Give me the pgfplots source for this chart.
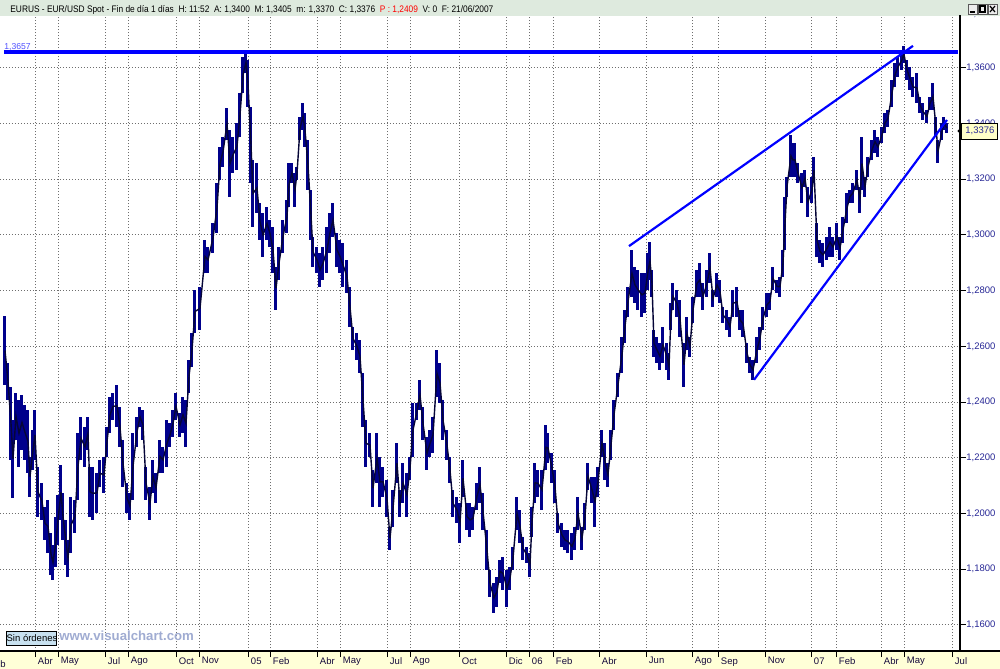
\documentclass[border=0pt]{standalone}
\usepackage{pgfplots}
\pgfplotsset{compat=1.18}
\usepackage{pgfplotstable}
\usepackage{fontspec}
\setmainfont{Liberation Sans}

\definecolor{barnavy}{RGB}{0,0,140}
\definecolor{linedark}{RGB}{5,5,55}
\definecolor{trendblue}{RGB}{0,0,255}
\definecolor{gridgray}{RGB}{110,110,110}
\definecolor{ticknavy}{RGB}{40,40,150}
\definecolor{monthtxt}{RGB}{20,10,60}
\definecolor{bandyellow}{RGB}{255,255,215}
\definecolor{titlebg}{RGB}{222,234,222}
\definecolor{levelblue}{RGB}{80,80,255}
\definecolor{tagyellow}{RGB}{255,255,200}
\definecolor{btnblue}{RGB}{200,225,240}
\definecolor{wmark}{RGB}{160,172,210}

% EUR/USD daily bars: position, high, low
\pgfplotstableread{
x hi lo
5 1.2709 1.2462
8 1.2541 1.2408
11 1.2455 1.2193
13 1.2336 1.2056
16 1.2433 1.2264
19 1.2408 1.2168
22 1.2426 1.2228
25 1.2390 1.2193
28 1.2372 1.2146
30 1.2203 1.2060
33 1.2300 1.2157
35 1.2372 1.2193
38 1.2168 1.1988
42 1.2110 1.1977
45 1.2024 1.1905
48 1.2049 1.1858
51 1.1930 1.1780
53 1.1887 1.1762
56 1.1988 1.1809
58 1.2067 1.1887
61 1.2175 1.1977
63 1.2074 1.1905
66 1.1977 1.1816
68 1.1905 1.1773
71 1.2060 1.1858
75 1.2049 1.1930
78 1.2289 1.2049
81 1.2347 1.2193
85 1.2311 1.2168
88 1.2347 1.2228
90 1.2168 1.1988
93 1.2168 1.1977
97 1.2146 1.2002
100 1.2193 1.2096
104 1.2203 1.2074
107 1.2311 1.2203
110 1.2419 1.2289
113 1.2433 1.2336
117 1.2462 1.2311
120 1.2383 1.2239
123 1.2264 1.2096
127 1.2110 1.2002
130 1.2074 1.1977
133 1.2289 1.2049
137 1.2347 1.2239
140 1.2383 1.2311
143 1.2372 1.2264
146 1.2168 1.2049
150 1.2096 1.1977
153 1.2193 1.2074
156 1.2146 1.2038
160 1.2264 1.2146
163 1.2239 1.2146
167 1.2336 1.2168
170 1.2325 1.2239
173 1.2372 1.2275
176 1.2433 1.2336
180 1.2361 1.2275
183 1.2419 1.2289
186 1.2408 1.2239
189 1.2552 1.2433
192 1.2648 1.2527
195 1.2803 1.2648
200 1.2814 1.2659
205 1.2982 1.2864
208 1.2957 1.2864
213 1.3043 1.2935
217 1.3187 1.3007
220 1.3316 1.3198
223 1.3352 1.3245
227 1.3456 1.3341
230 1.3377 1.3137
233 1.3352 1.3223
237 1.3402 1.3234
240 1.3510 1.3352
243 1.3639 1.3510
246 1.3657 1.3582
248 1.3629 1.3460
251 1.3460 1.3187
253 1.3270 1.3029
257 1.3259 1.3079
260 1.3115 1.2982
263 1.3079 1.2921
267 1.3101 1.2982
270 1.3054 1.2957
273 1.3029 1.2864
276 1.2886 1.2731
279 1.2957 1.2839
283 1.3054 1.2935
287 1.3126 1.3007
289 1.3259 1.3101
292 1.3259 1.3187
295 1.3223 1.3101
297 1.3245 1.3198
300 1.3424 1.3341
303 1.3474 1.3377
305 1.3438 1.3316
308 1.3341 1.3162
311 1.3162 1.2982
313 1.2993 1.2886
317 1.2957 1.2864
320 1.2935 1.2814
323 1.2957 1.2839
327 1.3029 1.2864
330 1.3079 1.2935
333 1.3115 1.2993
337 1.3007 1.2886
340 1.2982 1.2864
343 1.2971 1.2814
347 1.2911 1.2792
350 1.2814 1.2670
353 1.2670 1.2587
357 1.2648 1.2552
360 1.2623 1.2505
363 1.2505 1.2311
366 1.2336 1.2168
370 1.2289 1.2203
373 1.2157 1.2024
377 1.2289 1.2110
380 1.2203 1.2024
383 1.2168 1.2060
387 1.2121 1.1988
390 1.1952 1.1869
393 1.2085 1.1952
397 1.2253 1.2110
400 1.2085 1.1988
403 1.2182 1.2038
407 1.2146 1.1988
410 1.2203 1.2121
413 1.2397 1.2203
417 1.2397 1.2336
420 1.2480 1.2372
423 1.2383 1.2264
427 1.2275 1.2157
430 1.2300 1.2203
433 1.2347 1.2217
437 1.2587 1.2419
440 1.2541 1.2397
443 1.2408 1.2264
447 1.2300 1.2193
450 1.2203 1.2110
453 1.2085 1.1988
457 1.2060 1.1966
460 1.2038 1.1894
463 1.2193 1.2060
467 1.2038 1.1941
470 1.2038 1.1916
473 1.2024 1.1941
477 1.2110 1.2013
480 1.2168 1.2038
483 1.2074 1.1941
487 1.1941 1.1798
490 1.1798 1.1701
494 1.1751 1.1643
497 1.1773 1.1665
500 1.1834 1.1751
503 1.1844 1.1726
507 1.1798 1.1665
510 1.1809 1.1726
513 1.1880 1.1798
517 1.2060 1.1941
520 1.2013 1.1894
523 1.1916 1.1834
527 1.1880 1.1823
530 1.1858 1.1773
532 1.2024 1.1916
535 1.2182 1.2038
538 1.2157 1.2060
542 1.2157 1.2013
546 1.2318 1.2157
548 1.2289 1.2182
552 1.2217 1.2110
555 1.2157 1.2038
558 1.2002 1.1930
562 1.1966 1.1880
565 1.1941 1.1869
568 1.1941 1.1858
572 1.1930 1.1834
575 1.1952 1.1869
578 1.2060 1.1941
582 1.1952 1.1869
585 1.2038 1.1941
588 1.2182 1.2085
592 1.2132 1.2038
595 1.2132 1.1952
598 1.2168 1.2060
602 1.2300 1.2203
605 1.2253 1.2121
608 1.2182 1.2096
611 1.2300 1.2193
614 1.2408 1.2300
618 1.2505 1.2419
622 1.2634 1.2505
625 1.2731 1.2612
628 1.2814 1.2706
632 1.2946 1.2778
635 1.2886 1.2756
638 1.2875 1.2731
642 1.2864 1.2706
645 1.2864 1.2720
648 1.2935 1.2803
650 1.2975 1.2839
652 1.2875 1.2778
654 1.2659 1.2562
657 1.2634 1.2541
660 1.2612 1.2516
663 1.2670 1.2541
667 1.2612 1.2516
669 1.2576 1.2480
671 1.2756 1.2659
673 1.2828 1.2731
677 1.2803 1.2706
680 1.2767 1.2634
684 1.2612 1.2455
687 1.2706 1.2587
690 1.2634 1.2562
693 1.2778 1.2684
697 1.2875 1.2778
700 1.2900 1.2778
703 1.2828 1.2731
707 1.2875 1.2778
710 1.2935 1.2828
713 1.2803 1.2742
717 1.2864 1.2778
720 1.2839 1.2756
723 1.2742 1.2684
727 1.2731 1.2659
730 1.2706 1.2634
733 1.2803 1.2706
737 1.2814 1.2706
740 1.2731 1.2659
743 1.2731 1.2634
747 1.2612 1.2541
750 1.2562 1.2505
753 1.2552 1.2480
757 1.2634 1.2541
760 1.2670 1.2587
763 1.2742 1.2659
767 1.2792 1.2706
770 1.2792 1.2731
773 1.2886 1.2803
777 1.2839 1.2792
780 1.2850 1.2778
783 1.2946 1.2850
785 1.3137 1.2946
787 1.3209 1.3137
791 1.3359 1.3209
793 1.3330 1.3209
795 1.3330 1.3209
798 1.3259 1.3187
802 1.3223 1.3115
805 1.3234 1.3173
808 1.3173 1.3065
812 1.3209 1.3115
814 1.3280 1.3187
817 1.3043 1.2921
820 1.2982 1.2900
823 1.2971 1.2886
827 1.2993 1.2911
830 1.3029 1.2921
833 1.2993 1.2921
837 1.3043 1.2946
840 1.2993 1.2911
843 1.3065 1.2971
847 1.3151 1.3043
850 1.3162 1.3115
853 1.3187 1.3115
857 1.3234 1.3162
860 1.3173 1.3079
862 1.3352 1.3162
865 1.3209 1.3137
868 1.3280 1.3209
872 1.3341 1.3270
875 1.3377 1.3294
878 1.3352 1.3280
882 1.3388 1.3330
885 1.3438 1.3366
888 1.3449 1.3388
892 1.3557 1.3460
895 1.3618 1.3532
898 1.3639 1.3568
902 1.3664 1.3593
904 1.3679 1.3618
907 1.3629 1.3557
910 1.3604 1.3521
913 1.3568 1.3496
917 1.3582 1.3474
920 1.3496 1.3438
923 1.3474 1.3413
927 1.3449 1.3402
930 1.3496 1.3449
933 1.3546 1.3449
936 1.3424 1.3352
938 1.3341 1.3259
942 1.3402 1.3341
944 1.3424 1.3377
947 1.3402 1.3366
}\bars

\newcommand{\sm}{\fontsize{4.75bp}{5.5bp}\selectfont}

\begin{document}
\begin{tikzpicture}
\path[use as bounding box] (0,0) rectangle (500bp,334.5bp);
\clip (0,0) rectangle (500bp,334.5bp);
\fill[white] (0,0) rectangle (500bp,334.5bp);
\fill[bandyellow] (0,0) rectangle (500bp,9bp);

\begin{axis}[
  at={(0bp,9bp)}, anchor=south west,
  width=480bp, height=317bp, scale only axis,
  xmin=0, xmax=960, ymin=1.15062, ymax=1.37827,
  axis x line*=bottom, axis y line*=right,
  axis line style={black, line width=0.6bp},
  tick align=outside, major tick length=3bp,
  tick style={black, line width=0.5bp},
  grid=major,
  major grid style={gridgray, line width=0.5bp, dash pattern=on 0.5bp off 1bp},
  xtick={36,59,106,129,177,200,249,271,318,341,388,411,460,507,530,554,600,647,693,719,766,812,837,882,905,953},
  xticklabels={Abr,May,Jul,Ago,Oct,Nov,05,Feb,Abr,May,Jul,Ago,Oct,Dic,06,Feb,Abr,Jun,Ago,Sep,Nov,07,Feb,Abr,May,Jul},
  xticklabel style={font=\sm, text=monthtxt, anchor=north west, inner sep=0pt, xshift=0.8bp},
  ytick={1.16,1.18,1.20,1.22,1.24,1.26,1.28,1.30,1.32,1.34,1.36},
  yticklabel style={font=\sm, text=ticknavy, anchor=west, inner sep=0pt,
    /pgf/number format/.cd, fixed, fixed zerofill, precision=4, use comma, assume math mode=true},
]
\addplot[only marks, mark=*, mark size=0pt, mark options={draw=none, fill=none},
  error bars/.cd, y dir=plus, y explicit, error mark=none,
  error bar style={line width=1.5bp, barnavy}]
  table[x=x, y=lo, y error plus expr=\thisrow{hi}-\thisrow{lo}] {\bars};
\addplot[linedark, line width=0.7bp, mark=none]
  table[x=x, y expr=(\thisrow{hi}+\thisrow{lo})/2] {\bars};
% resistance level and wedge lines
\addplot[trendblue, line width=2bp] coordinates {(4,1.3657)(958,1.3657)};
\addplot[trendblue, line width=1.1bp] coordinates {(629,1.2960)(913,1.3679)};
\addplot[trendblue, line width=1.1bp] coordinates {(754,1.2480)(947,1.3413)};
\end{axis}

\begin{scope}[x=0.5bp,y=0.5bp]
% level label
\node[anchor=south west, inner sep=0pt, text=levelblue, font=\fontsize{4.3bp}{5bp}\selectfont] at (4,618) {1,3657};
% partly hidden top tick label
\node[anchor=west, inner sep=0pt, text=ticknavy, font=\sm] at (968,655) {1,3800};
% title bar
\fill[titlebg] (0,653) rectangle (1000,669);
\node[anchor=base west, inner sep=0pt] at (10,657)
  {\resizebox{241.5bp}{\height}{\sm EURUS - EUR/USD Spot - Fin de día 1 días\ \ H: 11:52\ \ A: 1,3400\ \ M: 1,3405\ \ m: 1,3370\ \ C: 1,3376\ \ \textcolor{red}{P : 1,2409}\ \ V: 0\ \ F: 21/06/2007}};
% window buttons
\foreach \bx in {968,978,988}{
  \draw[gray!70!black, fill=gray!15, line width=0.4bp] (\bx,655) rectangle (\bx+9,665);
}
\draw[black, line width=0.6bp] (970,657) -- (975,657);
\draw[black, line width=0.6bp] (980,657) rectangle (985,663);
\draw[black, line width=0.6bp] (990,657) -- (995,663) (990,663) -- (995,657);
% right frame line
\draw[black, line width=0.6bp] (960,18) -- (960,654);
% price tag
\draw[black, line width=0.5bp, fill=tagyellow] (962,530) rectangle (998,546);
\node[inner sep=0pt, text=ticknavy, font=\sm] at (980,538) {1,3376};
\draw[black, line width=0.5bp] (961,541) -- (958,538) -- (961,535);
% bottom band line and cut label
\draw[black, line width=0.6bp] (0,18) -- (1000,18);
\node[anchor=north west, inner sep=0pt, text=monthtxt, font=\sm] at (0,9) {b};
% order box and watermark
\draw[black, line width=0.5bp, fill=btnblue] (7,24) rectangle (57,38);
\node[inner sep=0pt, font=\sm] at (32,31) {Sin órdenes};
\node[anchor=west, inner sep=0pt, text=wmark, font=\fontsize{6.6bp}{7bp}\selectfont\bfseries] at (59,33) {www.visualchart.com};
\end{scope}
\end{tikzpicture}
\end{document}
